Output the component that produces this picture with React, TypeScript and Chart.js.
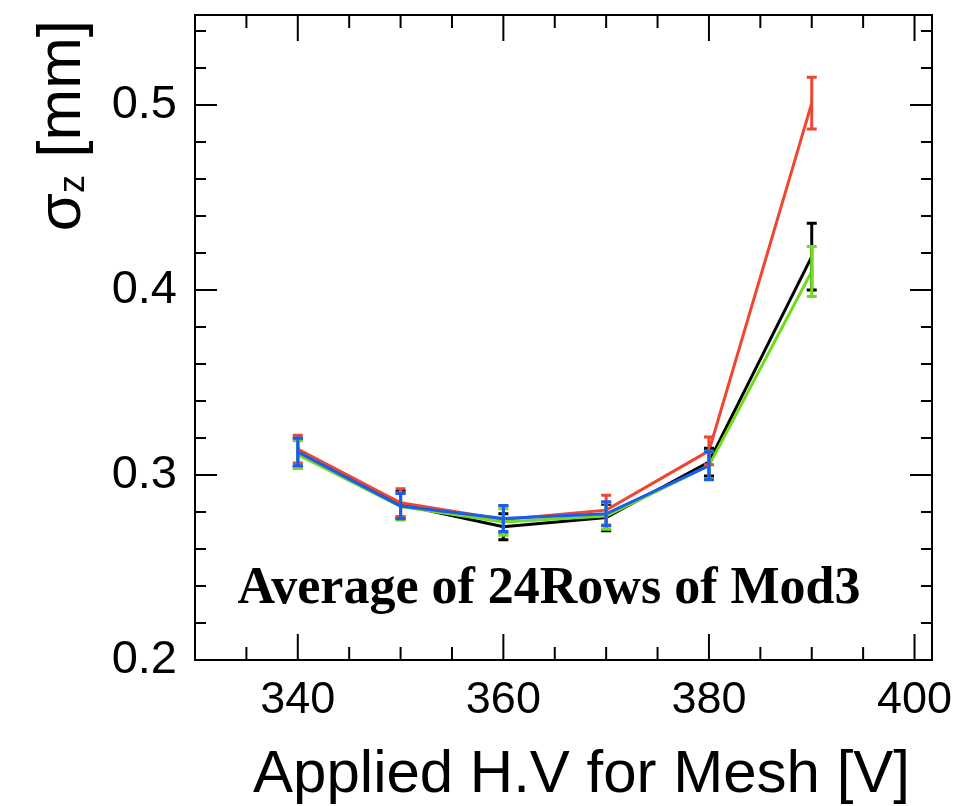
import React, { useEffect, useRef } from "react";
import { Chart, registerables } from "chart.js";

Chart.register(...registerables);

// ---- data ----
const voltages = [340, 350, 360, 370, 380, 390];
const blackValues = [0.312, 0.284, 0.272, 0.277, 0.307, 0.418];
const blackErrors = [0.0075, 0.0073, 0.007, 0.0072, 0.0075, 0.018];
const redValues = [0.314, 0.285, 0.276, 0.281, 0.313, 0.501];
const redErrors = [0.0075, 0.0075, 0.0072, 0.008, 0.0075, 0.014];
const greenValues = [0.311, 0.283, 0.2746, 0.2778, 0.305, 0.41];
const greenErrors = [0.0075, 0.0073, 0.0072, 0.0072, 0.0075, 0.0135];
const blueValues = [0.3125, 0.2832, 0.2765, 0.279, 0.305];
const blueErrors = [0.0075, 0.0068, 0.007, 0.0065, 0.0076];
const xTickLabels = [340, 360, 380, 400];
const yTickLabels = [0.2, 0.3, 0.4, 0.5];
const plotTitle = "Average of 24Rows of Mod3";
const xAxisTitle = "Applied H.V for Mesh [V]";
const yAxisSymbol = "σ";
const yAxisSub = "z";
const yAxisUnit = " [mm]";

const X_MIN = 330;
const X_MAX = 401.7;
const Y_MIN = 0.2;
const Y_MAX = 0.5486;

const SANS = "'Liberation Sans', Arial, Helvetica, sans-serif";
const SERIF = "'Liberation Serif', 'Times New Roman', serif";

function isMultiple(v: number, step: number) {
  const r = v / step;
  return Math.abs(r - Math.round(r)) < 1e-6;
}

function zeroPadding(s: any) {
  s.paddingLeft = 0;
  s.paddingRight = 0;
  s.paddingTop = 0;
  s.paddingBottom = 0;
}

const errorBarPlugin = {
  id: "errorBars",
  afterDatasetsDraw(chart: any) {
    const ctx = chart.ctx;
    const xs = chart.scales.x;
    const ys = chart.scales.y;
    ctx.save();
    const sets = chart.data.datasets.slice().reverse();
    sets.forEach((ds: any) => {
      const errs: number[] = ds.errors || [];
      ctx.strokeStyle = ds.borderColor;
      ctx.lineWidth = 3;
      ds.data.forEach((p: any, i: number) => {
        const e = errs[i];
        if (e == null) return;
        const px = xs.getPixelForValue(p.x);
        const top = ys.getPixelForValue(p.y + e);
        const bot = ys.getPixelForValue(p.y - e);
        ctx.beginPath();
        ctx.moveTo(px, top);
        ctx.lineTo(px, bot);
        ctx.moveTo(px - 5, top);
        ctx.lineTo(px + 5, top);
        ctx.moveTo(px - 5, bot);
        ctx.lineTo(px + 5, bot);
        ctx.stroke();
      });
    });
    ctx.restore();
  },
};

const framePlugin = {
  id: "frameAndText",
  afterDraw(chart: any) {
    const ctx = chart.ctx;
    const a = chart.chartArea;
    const xs = chart.scales.x;
    const ys = chart.scales.y;
    ctx.save();
    ctx.strokeStyle = "#000";
    ctx.lineWidth = 2;
    ctx.strokeRect(a.left, a.top, a.right - a.left, a.bottom - a.top);
    ctx.beginPath();
    xs.ticks.forEach((t: any) => {
      const v = t.value;
      if (!isMultiple(v, 5) || v <= X_MIN || v >= X_MAX) return;
      const major = xTickLabels.some((m) => Math.abs(m - v) < 1e-6);
      const len = major ? 26 : 13;
      const px = xs.getPixelForValue(v);
      ctx.moveTo(px, a.bottom);
      ctx.lineTo(px, a.bottom - len);
      ctx.moveTo(px, a.top);
      ctx.lineTo(px, a.top + len);
    });
    ys.ticks.forEach((t: any) => {
      const v = t.value;
      if (!isMultiple(v, 0.02) || v <= Y_MIN + 1e-9 || v >= Y_MAX) return;
      const major = yTickLabels.some((m) => Math.abs(m - v) < 1e-6);
      const len = major ? 22 : 11;
      const py = ys.getPixelForValue(v);
      ctx.moveTo(a.left, py);
      ctx.lineTo(a.left + len, py);
      ctx.moveTo(a.right, py);
      ctx.lineTo(a.right - len, py);
    });
    ctx.stroke();

    // in-plot title
    ctx.fillStyle = "#000";
    ctx.font = `bold 52px ${SERIF}`;
    ctx.textAlign = "center";
    ctx.textBaseline = "alphabetic";
    ctx.fillText(plotTitle, 549, 603);

    // x axis title
    ctx.font = `60px ${SANS}`;
    ctx.textAlign = "right";
    ctx.fillText(xAxisTitle, 910, 792);

    // y axis title (rotated)
    ctx.translate(80, 20);
    ctx.rotate(-Math.PI / 2);
    ctx.textAlign = "left";
    const bigFont = `62px ${SANS}`;
    const subFont = `36px ${SANS}`;
    ctx.font = bigFont;
    const w1 = ctx.measureText(yAxisSymbol).width;
    const w3 = ctx.measureText(yAxisUnit).width;
    ctx.font = subFont;
    const w2 = ctx.measureText(yAxisSub).width;
    let x0 = -(w1 + w2 + w3);
    ctx.font = bigFont;
    ctx.fillText(yAxisSymbol, x0, 0);
    x0 += w1;
    ctx.font = subFont;
    ctx.fillText(yAxisSub, x0, 4);
    x0 += w2;
    ctx.font = bigFont;
    ctx.fillText(yAxisUnit, x0, 0);
    ctx.restore();
  },
};

function makeSeries(values: number[], color: string, errors: number[]) {
  return {
    data: values.map((v, i) => ({ x: voltages[i], y: v })),
    errors,
    borderColor: color,
    backgroundColor: color,
    borderWidth: 3,
    pointRadius: 0,
    tension: 0,
    fill: false,
  };
}

export default function App() {
  const ref = useRef<HTMLCanvasElement | null>(null);
  useEffect(() => {
    if (!ref.current) return;
    const chart = new Chart(ref.current, {
      type: "line",
      data: {
        datasets: [
          makeSeries(blueValues, "#1a5cf0", blueErrors),
          makeSeries(greenValues, "#6fdc1e", greenErrors),
          makeSeries(redValues, "#ee4630", redErrors),
          makeSeries(blackValues, "#000000", blackErrors),
        ] as any,
      },
      options: {
        animation: false,
        responsive: false,
        maintainAspectRatio: false,
        layout: { padding: { left: 0, right: 29, top: 15, bottom: 0 } },
        plugins: {
          legend: { display: false },
          tooltip: { enabled: false },
          title: { display: false },
        },
        scales: {
          x: {
            type: "linear",
            min: X_MIN,
            max: X_MAX,
            grid: { display: false },
            border: { display: false },
            afterFit: (s: any) => {
              s.height = 146;
              zeroPadding(s);
            },
            ticks: {
              stepSize: 5,
              includeBounds: false,
              autoSkip: false,
              maxRotation: 0,
              padding: 6,
              color: "#000",
              font: { family: SANS, size: 45 },
              callback: (v: any) =>
                xTickLabels.some((m) => Math.abs(m - Number(v)) < 1e-6) ? String(v) : "",
            },
          },
          y: {
            type: "linear",
            min: Y_MIN,
            max: Y_MAX,
            grid: { display: false },
            border: { display: false },
            afterFit: (s: any) => {
              s.width = 195;
              zeroPadding(s);
            },
            ticks: {
              stepSize: 0.02,
              includeBounds: false,
              autoSkip: false,
              padding: 10,
              color: "#000",
              font: { family: SANS, size: 47 },
              callback: (v: any) => {
                const n = Number(v);
                const hit = yTickLabels.find((m) => Math.abs(m - n) < 1e-6);
                return hit != null ? hit.toFixed(1) : "";
              },
            },
          },
        },
      } as any,
      plugins: [errorBarPlugin, framePlugin],
    });
    return () => chart.destroy();
  }, []);

  return (
    <div style={{ position: "fixed", left: 0, top: 0, width: 961, height: 806, background: "#fff" }}>
      <canvas ref={ref} width={961} height={806} style={{ width: 961, height: 806, display: "block" }} />
    </div>
  );
}
